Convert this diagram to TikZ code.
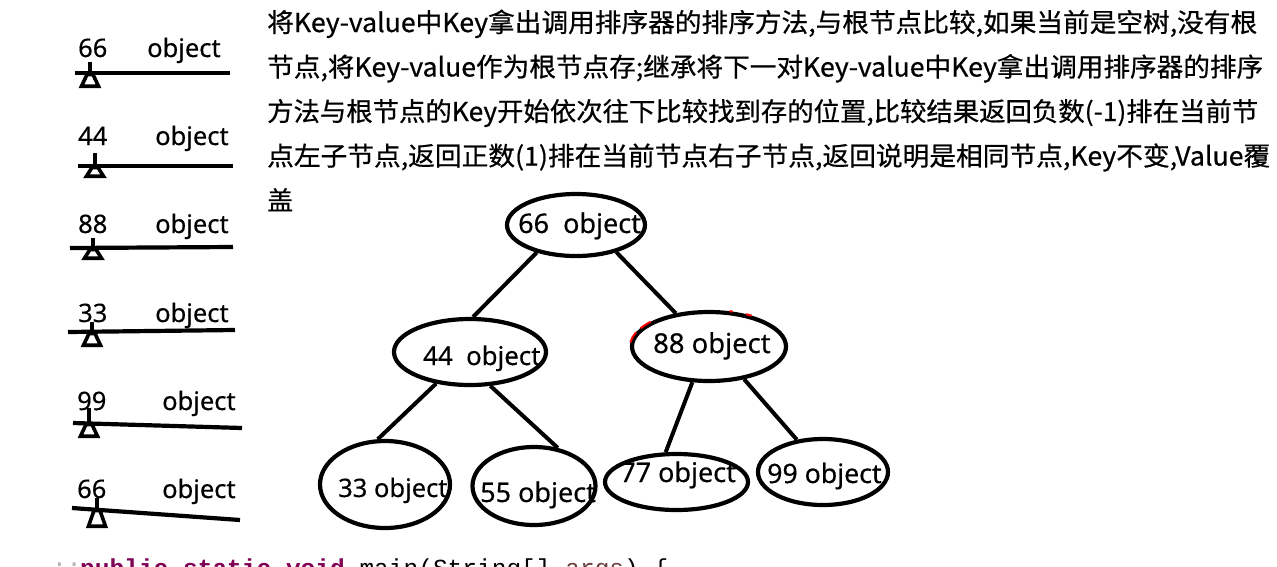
\documentclass[tikz,border=0pt]{standalone}
\usepackage{fontspec}
\usepackage{graphicx}
\setmainfont{Noto Sans}[FakeBold=0.4]
\setmonofont{Liberation Mono}
\newfontfamily\cjkfont{Noto Sans CJK SC}[FakeBold=0.6]
\usetikzlibrary{shapes.geometric}
\definecolor{kwcol}{HTML}{7F0055}
\definecolor{parcol}{HTML}{6A3E3E}
\newsavebox\fitbox
\newlength\fitlen
\newcommand\fitline[2]{\sbox\fitbox{#2}\setlength\fitlen{\wd\fitbox}\pgfmathsetmacro\fitratio{#1/\fitlen}\scalebox{\fitratio}[1]{\usebox\fitbox}}
\tikzset{
  tnode/.style={draw, ellipse, line width=4.2pt, inner sep=0pt},
  tlab/.style={anchor=base west, inner sep=0pt, font=\fontsize{26}{30}\selectfont},
  edge/.style={line width=4pt},
  bar/.style={line width=4.2pt},
  fulcst/.style={line width=3.6pt, line join=miter},
  klab/.style={anchor=base west, inner sep=0pt, font=\fontsize{25.5}{30}\selectfont},
  para/.style={anchor=base west, inner sep=0pt, font=\fontsize{26}{30}\cjkfont},
  redmark/.style={red, line width=2pt}
}
\newcommand\fulc[4]{%
  \draw[fulcst] (#1,#2) -- (#1,#3);
  \draw[fulcst] ({#1-3},{#3+1.5}) -- ({#1+3},{#3+1.5}) -- ({#1+8.5},{#4-1.8}) -- ({#1-8.5},{#4-1.8}) -- cycle;}
\begin{document}
\begin{tikzpicture}[x=1pt,y=-1pt]
\clip (0,0) rectangle (1277,566);
\fill[white] (0,0) rectangle (1277,566);

% ---------- left column ----------
\node[klab] (k1) at (78,57) {66};
\node[klab] (o1) at (147,57) {object};
\coordinate (a1) at (75,73); \coordinate (b1) at (230,73);
\draw[bar] (a1) -- (b1);
\fulc{90}{62}{73}{88}

\node[klab] (k2) at (78,145) {44};
\node[klab] (o2) at (155,145) {object};
\coordinate (a2) at (78,166); \coordinate (b2) at (233,166);
\draw[bar] (a2) -- (b2);
\fulc{95}{153}{166}{178}

\node[klab] (k3) at (78,233) {88};
\node[klab] (o3) at (155,233) {object};
\coordinate (a3) at (70,248); \coordinate (b3) at (233,247);
\draw[bar] (a3) -- (b3);
\fulc{93}{238}{248}{260}

\node[klab] (k4) at (78,322) {33};
\node[klab] (o4) at (155,322) {object};
\coordinate (a4) at (68,332); \coordinate (b4) at (235,330);
\draw[bar] (a4) -- (b4);
\fulc{92}{322}{332}{347}

\node[klab] (k5) at (77,410) {99};
\node[klab] (o5) at (162,410) {object};
\coordinate (a5) at (73,423); \coordinate (b5) at (242,428);
\draw[bar] (a5) -- (b5);
\fulc{89}{408}{423}{438}

\node[klab] (k6) at (77,498) {66};
\node[klab] (o6) at (162,498) {object};
\coordinate (a6) at (72,508); \coordinate (b6) at (240,520);
\draw[bar] (a6) -- (b6);
\fulc{97}{498}{509}{528}

% ---------- paragraph ----------
\node[para] (p1) at (267,32) {\fitline{990}{将Key-value中Key拿出调用排序器的排序方法,与根节点比较,如果当前是空树,没有根}};
\node[para] (p2) at (267,76.5) {\fitline{996}{节点,将Key-value作为根节点存;继承将下一对Key-value中Key拿出调用排序器的排序}};
\node[para] (p3) at (267,121) {\fitline{991}{方法与根节点的Key开始依次往下比较找到存的位置,比较结果返回负数(-1)排在当前节}};
\node[para] (p4) at (267,165.5) {\fitline{1003}{点左子节点,返回正数(1)排在当前节点右子节点,返回说明是相同节点,Key不变,Value覆}};
\node[para] (p5) at (267,210) {盖};

% ---------- tree ----------
\node[tnode, minimum width=138, minimum height=62] (n66) at (576,225) {};
\node[tnode, minimum width=152, minimum height=66] (n44) at (470,352) {};
\node[tnode, minimum width=154, minimum height=69] (n88) at (709,346.5) {};
\node[tnode, minimum width=130, minimum height=87] (n33) at (385,484.5) {};
\node[tnode, minimum width=123, minimum height=78] (n55) at (534,486) {};
\node[tnode, minimum width=143, minimum height=56] (n77) at (676.5,482) {};
\node[tnode, minimum width=130, minimum height=66] (n99) at (823,472) {};

\node[tlab, font=\fontsize{27}{30}\selectfont] (t66) at (518,233) {66\ \ object};
\node[tlab, font=\fontsize{25.8}{30}\selectfont] (t44) at (423,365) {44\ \ object};
\node[tlab, font=\fontsize{27.4}{30}\selectfont] (t88) at (653,353) {88 object};
\node[tlab, font=\fontsize{25.5}{30}\selectfont] (t33) at (338,497) {33 object};
\node[tlab, font=\fontsize{27}{30}\selectfont] (t55) at (480,502) {55 object};
\node[tlab, font=\fontsize{27}{30}\selectfont] (t77) at (620,482) {77 object};
\node[tlab, font=\fontsize{26.7}{30}\selectfont] (t99) at (767,483) {99 object};

\draw[edge] (n66.215) -- (n44.85);
\draw[edge] (n66.326) -- (n88.135);
\draw[edge] (n44.223) -- (n33.99);
\draw[edge] (n44.301) -- (n55.58);
\draw[edge] (n88.245) -- (n77.110);
\draw[edge] (n88.317) -- (n99.129);

% red marks on 88 ellipse
\draw[redmark] (n88.157) -- (n88.161) -- (n88.165);
\draw[redmark] (n88.169) -- (n88.173) -- (n88.177);
\draw[redmark] (n88.56) -- (n88.60);
\draw[redmark] (n88.36) -- (n88.41);

% ---------- code line ----------
\node[anchor=base west, inner sep=0pt, font=\fontsize{24.5}{28}\ttfamily, text=gray!60] (ws) at (52,571) {··};
\node[anchor=base west, inner sep=0pt, font=\fontsize{24.5}{28}\ttfamily] (code) at (80,576) {\textcolor{kwcol}{\bfseries public static void} main(String[] \textcolor{parcol}{args}) \{};
\end{tikzpicture}
\end{document}
